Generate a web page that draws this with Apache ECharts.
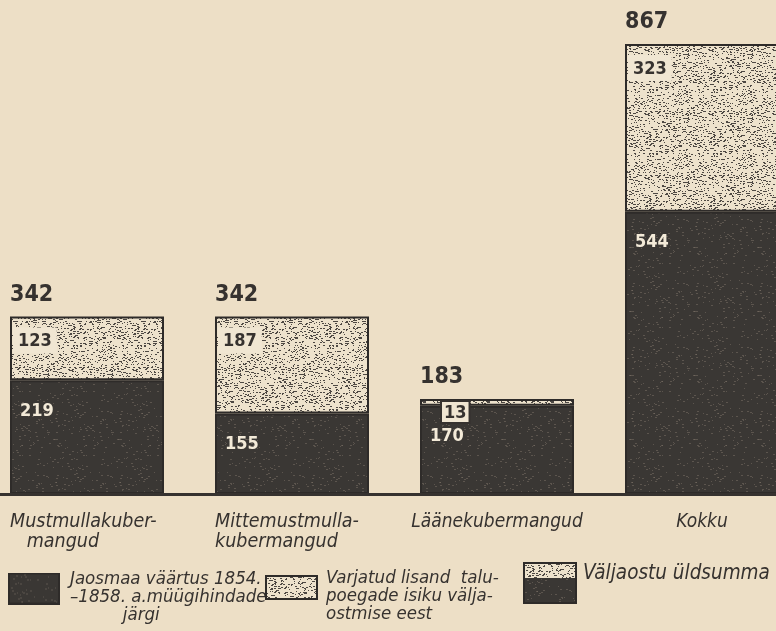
<!DOCTYPE html>
<html>
<head>
<meta charset="utf-8">
<script src="https://cdn.jsdelivr.net/npm/echarts@6/dist/echarts.min.js"></script>
<style>
html,body{margin:0;padding:0;background:#eddfc6;}
#main{width:776px;height:631px;}
</style>
</head>
<body>
<div id="main"></div>
<script>
// andmed
var categories = ['Mustmullakuber-\n   mangud', 'Mittemustmulla-\nkubermangud', 'Läänekubermangud', 'Kokku'];
var jaosmaa = [219, 155, 170, 544];
var varjatud = [123, 187, 13, 323];
var kokku = [342, 342, 183, 867];

// tühjad read nihutavad legendi teksti ikooni suhtes
var legendText = {
	'Jaosmaa': '\nJaosmaa väärtus 1854.\n–1858. a.müügihindade\n          järgi',
	'Varjatud': '\nVarjatud lisand  talu-\npoegade isiku välja-\nostmise eest',
	'Väljaostu üldsumma': 'Väljaostu üldsumma\n'
};

// tekstuurid (trükimustri imitatsioon)
function texture(bg, fg, density, size, seed){
	var c = document.createElement('canvas');
	c.width = 64; c.height = 64;
	var ctx = c.getContext('2d');
	ctx.fillStyle = bg;
	ctx.fillRect(0,0,64,64);
	ctx.fillStyle = fg;
	var s = seed;
	function rnd(){ s = (s * 16807) % 2147483647; return (s - 1) / 2147483646; }
	for(var y=0;y<64;y+=2){
		for(var x=0;x<64;x+=2){
			if(rnd() < density){
				ctx.fillRect(x + Math.floor(rnd()*2), y + Math.floor(rnd()*2), size + Math.floor(rnd()*2), 1);
			}
		}
	}
	return c;
}
var darkCanvas = texture('#3a3734', 'rgba(125,115,104,0.5)', 0.12, 1, 7);
var lightCanvas = texture('#ede2cc', '#4d4843', 0.5, 1, 13);

function iconCanvas(w, h, split){
	var c = document.createElement('canvas');
	c.width = w; c.height = h;
	var ctx = c.getContext('2d');
	ctx.fillStyle = ctx.createPattern(darkCanvas, 'repeat');
	ctx.fillRect(0,0,w,h);
	if(split > 0){
		ctx.fillStyle = ctx.createPattern(lightCanvas, 'repeat');
		ctx.fillRect(0,0,w,split);
	}
	ctx.strokeStyle = '#2e2b29';
	ctx.lineWidth = 2;
	ctx.strokeRect(1,1,w-2,h-2);
	return 'image://' + c.toDataURL();
}

var font = '"DejaVu Sans Condensed", "DejaVu Sans", sans-serif';
var ink = '#36322f';

var myChart = echarts.init(document.getElementById('main'));

var lightData = varjatud.map(function(v){
	var item = {value: v};
	if(v < 30){
		item.label = {borderColor: ink, borderWidth: 2, padding: [2,2,0,2], position: [22, 3]};
	}
	return item;
});

function legendOf(name, left, top, w, h, icon, padLeft, size){
	return {
		data: [name],
		left: left,
		top: top,
		padding: 0,
		orient: 'horizontal',
		itemWidth: w,
		itemHeight: h,
		itemGap: 0,
		icon: icon,
		selectedMode: false,
		formatter: function(n){ return legendText[n]; },
		textStyle: {
			fontFamily: font,
			fontStyle: 'italic',
			fontSize: size,
			lineHeight: 18,
			color: ink,
			padding: [0,0,0,padLeft]
		}
	};
}

option = {
	backgroundColor: '#eddfc6',
	animation: false,
	grid: [
		{left: 87, right: 74, top: 44, bottom: 137},
		{left: 0, right: 0, top: 44, bottom: 137}
	],
	xAxis: [
		{
			type: 'category',
			data: categories,
			boundaryGap: false,
			axisTick: {show: false},
			axisLine: {show: false},
			axisLabel: {
				interval: 0,
				margin: 18,
				formatter: function(v){
					var lines = v.split('\n');
					if(lines.length > 1){
						return '{l|' + lines[0] + '}\n{l|' + lines[1] + '}';
					}
					return '{c|' + v + '}';
				},
				rich: {
					l: {width: 154, align: 'left', fontFamily: font, fontStyle: 'italic', fontSize: 19.5, lineHeight: 20, color: ink},
					c: {fontFamily: font, fontStyle: 'italic', fontSize: 19, lineHeight: 20, color: ink}
				}
			}
		},
		{
			type: 'value',
			gridIndex: 1,
			min: 0,
			max: 1,
			axisTick: {show: false},
			axisLabel: {show: false},
			splitLine: {show: false},
			axisLine: {lineStyle: {color: ink, width: 3}},
			z: 10
		}
	],
	yAxis: [
		{type: 'value', min: 0, max: 867, show: false},
		{type: 'value', gridIndex: 1, min: 0, max: 1, show: false}
	],
	legend: [
		legendOf('Jaosmaa', 8, 552, 52, 32, iconCanvas(52, 32, 0), 5, 18.5),
		legendOf('Varjatud', 265, 551, 53, 25, iconCanvas(53, 25, 25), 3, 18.5),
		legendOf('Väljaostu üldsumma', 523, 562, 54, 42, iconCanvas(54, 42, 16), 1, 20.5)
	],
	series: [
		{
			name: 'Väljaostu üldsumma',
			type: 'bar',
			data: kokku,
			barWidth: 154,
			barGap: '-100%',
			clip: false,
			silent: true,
			z: 1,
			itemStyle: {color: 'rgba(0,0,0,0)'},
			label: {
				show: true,
				position: [0, -33],
				fontFamily: font,
				fontWeight: 'bold',
				fontSize: 23,
				color: ink
			}
		},
		{
			name: 'Jaosmaa',
			type: 'bar',
			stack: 'a',
			data: jaosmaa,
			barWidth: 154,
			clip: false,
			silent: true,
			z: 2,
			itemStyle: {color: {image: darkCanvas, repeat: 'repeat'}, borderColor: '#2e2b29', borderWidth: 2},
			label: {
				show: true,
				position: [10, 22],
				fontFamily: font,
				fontWeight: 'bold',
				fontSize: 18,
				color: '#f3ead8'
			}
		},
		{
			name: 'Varjatud',
			type: 'bar',
			stack: 'a',
			data: lightData,
			barWidth: 154,
			clip: false,
			silent: true,
			z: 2,
			itemStyle: {color: {image: lightCanvas, repeat: 'repeat'}, borderColor: '#2e2b29', borderWidth: 2},
			label: {
				show: true,
				position: [3, 11],
				fontFamily: font,
				fontWeight: 'bold',
				fontSize: 18,
				color: ink,
				backgroundColor: '#f0e6d2',
				padding: [5,5,3,5]
			}
		}
	]
};

myChart.setOption(option);
</script>
</body>
</html>
